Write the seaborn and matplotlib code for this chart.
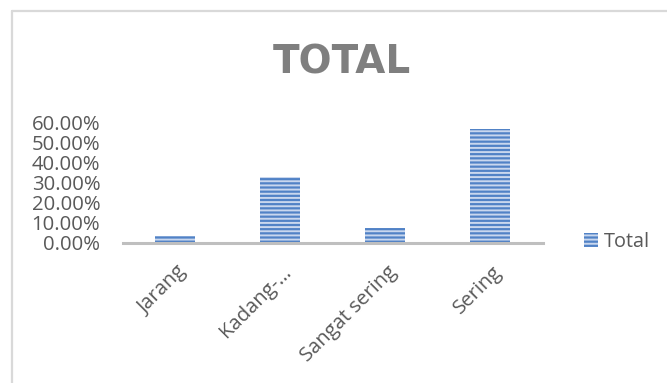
import matplotlib
matplotlib.use("Agg")
import matplotlib.pyplot as plt
import seaborn as sns
import pandas as pd
from matplotlib.ticker import PercentFormatter, MultipleLocator
from matplotlib.patches import Patch
from matplotlib.lines import Line2D
from matplotlib.transforms import ScaledTranslation

categories = ["Jarang", "Kadang-\u2026", "Sangat sering", "Sering"]
values = [0.037, 0.326, 0.074, 0.563]
series_name = "Total"
title = "TOTAL"

sns.set_theme(style="white")
plt.rcParams["font.family"] = ["Open Sans", "DejaVu Sans"]
plt.rcParams["hatch.color"] = "#C9D7EE"
plt.rcParams["hatch.linewidth"] = 1.4

df = pd.DataFrame({"cat": categories, "val": values})

fig = plt.figure(figsize=(6.67, 3.83), dpi=100)
ax = fig.add_axes([122.5 / 667, 1 - 243 / 383, 420 / 667, 121 / 383])

bar_color = "#5182C6"
sns.barplot(data=df, x="cat", y="val", ax=ax, color=bar_color, width=0.38,
            saturation=1, linewidth=0, edgecolor="#C9D7EE")
for p in ax.patches:
    p.set_hatch("----")
    p.set_facecolor(bar_color)

ax.set_xlim(-0.5, 3.5)
ax.set_ylim(0, 0.6)
ax.yaxis.set_major_locator(MultipleLocator(0.1))
ax.yaxis.set_major_formatter(PercentFormatter(1.0, decimals=2))
ax.set_xlabel("")
ax.set_ylabel("")

for s in ["top", "right", "left"]:
    ax.spines[s].set_visible(False)
ax.spines["bottom"].set_color("#BFBFBF")
ax.spines["bottom"].set_linewidth(2.2)

ax.tick_params(axis="y", length=0, pad=16, labelsize=14.6, labelcolor="#595959")
ax.tick_params(axis="x", length=0, pad=19, labelsize=14.6, labelcolor="#595959")
shift = ScaledTranslation(9 / 100, 0, fig.dpi_scale_trans)
for lab in ax.get_xticklabels():
    lab.set_rotation(45)
    lab.set_ha("right")
    lab.set_va("center")
    lab.set_rotation_mode("anchor")
    lab.set_transform(lab.get_transform() + shift)

fig.text(342 / 667, 1 - 62 / 383, title, ha="center", va="center",
         fontsize=28, fontweight="bold", color="#7F7F7F", family="DejaVu Sans")

handle = Patch(facecolor=bar_color, hatch="----", edgecolor="#C9D7EE", linewidth=0, label=series_name)
leg = fig.legend(handles=[handle], loc="center left", bbox_to_anchor=(574 / 667, 1 - 242 / 383),
                 frameon=False, fontsize=14.3, handlelength=0.7, handleheight=0.7,
                 handletextpad=0.3, borderpad=0)
for t in leg.get_texts():
    t.set_color("#595959")

# chart border
fig.add_artist(Line2D([11.5 / 667, 11.5 / 667], [0, 1 - 10.5 / 383], color="#D9D9D9", lw=1.6,
                      transform=fig.transFigure))
fig.add_artist(Line2D([11.5 / 667, 1], [1 - 10.5 / 383, 1 - 10.5 / 383], color="#D9D9D9", lw=1.6,
                      transform=fig.transFigure))

fig.savefig("out.png", dpi=100)
